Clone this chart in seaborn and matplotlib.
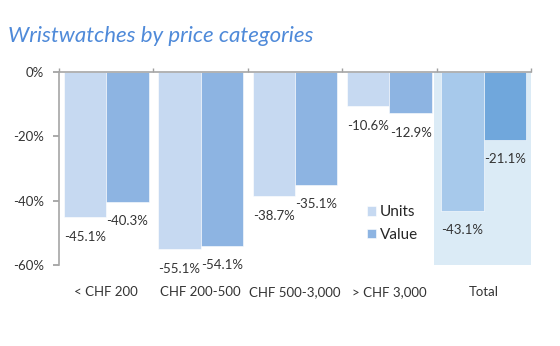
import matplotlib
matplotlib.use("Agg")
import matplotlib.pyplot as plt
import seaborn as sns
import pandas as pd

categories = ["< CHF 200", "CHF 200-500", "CHF 500-3,000", "> CHF 3,000", "Total"]
units = [-45.1, -55.1, -38.7, -10.6, -43.1]
value = [-40.3, -54.1, -35.1, -12.9, -21.1]
series = ["Units", "Value"]
yticks = [0, -20, -40, -60]

df = pd.DataFrame({
    "cat": categories * 2,
    "val": units + value,
    "series": [series[0]] * len(categories) + [series[1]] * len(categories),
})

sns.set_theme(style="white")
plt.rcParams["font.family"] = ["Lato", "DejaVu Sans"]

fig = plt.figure(figsize=(5.6, 3.46), dpi=100)
ax = fig.add_axes([59 / 560, 1 - 265 / 346, 472 / 560, 193 / 346])

c_units, c_value = "#c6d9f1", "#8db4e2"
ct_units, ct_value = "#a7c9eb", "#70a7dc"

ax.axvspan(3.47, 4.5, ymin=0, ymax=1, color="#dbebf6", zorder=0, lw=0)

sns.barplot(data=df, x="cat", y="val", hue="series", palette=[c_units, c_value],
            width=0.9, saturation=1, edgecolor="white", linewidth=0.4, ax=ax, zorder=2)

for cont, tc in zip(ax.containers, [ct_units, ct_value]):
    cont.patches[-1].set_facecolor(tc)
    for bar, v in zip(cont.patches, cont.datavalues):
        ax.annotate(f"{v:.1f}%", xy=(bar.get_x() + bar.get_width() / 2, v),
                    xytext=(0, -14), textcoords="offset points",
                    ha="center", va="center", fontsize=9.5, color="#333333")

ax.set_xlim(-0.5, 4.5)
ax.set_ylim(-60, 0)
ax.set_yticks(yticks)
ax.set_yticklabels([f"{t}%" for t in yticks], fontsize=9.5, color="#333333")
ax.set_xlabel("")
ax.set_ylabel("")
ax.set_xticks(range(len(categories)))
ax.set_xticklabels(categories, fontsize=9.5, color="#333333")
ax.set_xticks([i + 0.5 for i in range(-1, len(categories))], minor=True)
ax.tick_params(axis="x", which="major", length=0, pad=15, bottom=True, top=False)
ax.tick_params(axis="x", which="minor", top=True, bottom=False, direction="out",
               length=3, color="#a0a0a0", width=1)
ax.tick_params(axis="y", left=True, length=4, color="#a0a0a0", pad=7, direction="out")

for s in ["right", "bottom"]:
    ax.spines[s].set_visible(False)
for s in ["left", "top"]:
    ax.spines[s].set_color("#a6a6a6")
    ax.spines[s].set_linewidth(1.2)
    ax.spines[s].set_zorder(5)

handles, labels = ax.get_legend_handles_labels()
ax.legend(handles, labels, loc="upper left", bbox_to_anchor=(0.64, 0.34),
          frameon=False, fontsize=11, handlelength=0.55, handleheight=0.55,
          handletextpad=0.3, labelspacing=0.55, borderaxespad=0)

fig.text(0.014, 0.895, "Wristwatches by price categories", fontsize=16,
         style="italic", color="#4f8ad9", va="center", ha="left")

fig.savefig("out.png", dpi=100)
